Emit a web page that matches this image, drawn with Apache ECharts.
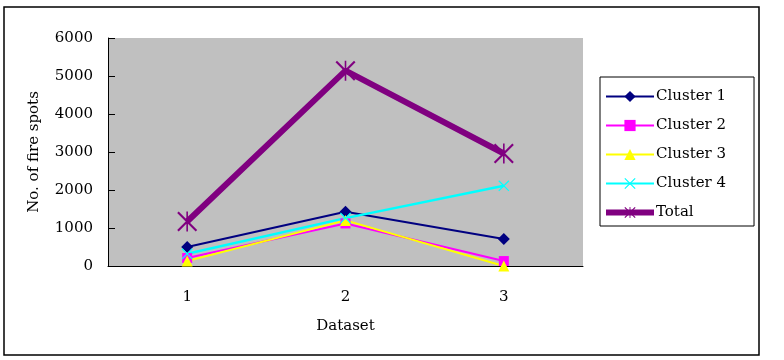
<!DOCTYPE html>
<html>
<head>
<meta charset="utf-8">
<script src="https://cdn.jsdelivr.net/npm/echarts@6/dist/echarts.min.js"></script>
<style>
  html, body { margin: 0; padding: 0; background: #fff; }
  #chart { width: 784px; height: 360px; }
</style>
</head>
<body>
<div id="chart"></div>
<script>
// 数据
const categories = ['1', '2', '3']
const cluster1 = [500, 1430, 710]
const cluster2 = [210, 1120, 130]
const cluster3 = [130, 1200, 0]
const cluster4 = [320, 1260, 2110]
const total = [1170, 5140, 2960]

const FONT = 'DejaVu Serif'

// 自定义标记
const crossPath = 'path://M0,1.5 L1.5,0 L20,18.5 L18.5,20 Z M18.5,0 L20,1.5 L1.5,20 L0,18.5 Z'
const starPath = 'path://M0,1.5 L1.5,0 L20,18.5 L18.5,20 Z M18.5,0 L20,1.5 L1.5,20 L0,18.5 Z M9.2,0 L10.8,0 L10.8,20 L9.2,20 Z'

const chart = echarts.init(document.getElementById('chart'))

const lineSeries = (name, data, color, symbol, size, width) => ({
  name,
  type: 'line',
  data,
  symbol,
  symbolSize: size,
  showAllSymbol: true,
  lineStyle: { color, width },
  itemStyle: { color, borderWidth: 0 },
  emphasis: { disabled: true },
  animation: false
})

const option = {
  backgroundColor: '#fff',
  textStyle: { fontFamily: FONT },
  graphic: [
    {
      type: 'rect',
      shape: { x: 4, y: 7, width: 755, height: 348 },
      style: { fill: 'none', stroke: '#000', lineWidth: 1.5 },
      z: -1
    }
  ],
  grid: {
    left: 108,
    right: 201,
    top: 38,
    bottom: 94,
    show: true,
    backgroundColor: '#c0c0c0',
    borderWidth: 0
  },
  legend: {
    orient: 'vertical',
    left: 600,
    top: 77,
    padding: [12, 28, 6, 3],
    itemWidth: 48,
    itemHeight: 14,
    itemGap: 14,
    itemStyle: { borderWidth: 0 },
    backgroundColor: '#fff',
    borderColor: '#000',
    borderWidth: 1,
    textStyle: { fontFamily: FONT, fontSize: 15, color: '#000', padding: [0, 0, 0, -3] },
    data: [
      'Cluster 1',
      'Cluster 2',
      'Cluster 3',
      'Cluster 4',
      { name: 'Total', lineStyle: { width: 6 } }
    ]
  },
  xAxis: {
    type: 'category',
    data: categories,
    boundaryGap: true,
    name: 'Dataset',
    nameLocation: 'middle',
    nameGap: 53,
    nameTextStyle: { fontFamily: FONT, fontSize: 15, color: '#000' },
    axisLine: { lineStyle: { color: '#000', width: 1 } },
    axisTick: { inside: true, length: 7, lineStyle: { color: '#000' } },
    axisLabel: { margin: 24, fontFamily: FONT, fontSize: 15, color: '#000' },
    splitLine: { show: false }
  },
  yAxis: {
    type: 'value',
    min: 0,
    max: 6000,
    interval: 1000,
    name: 'No. of fire spots',
    nameLocation: 'middle',
    nameGap: 66,
    nameTextStyle: { fontFamily: FONT, fontSize: 15, color: '#000' },
    axisLine: { show: true, lineStyle: { color: '#000', width: 1 } },
    axisTick: { show: true, inside: true, length: 7, lineStyle: { color: '#000' } },
    axisLabel: { margin: 15, fontFamily: FONT, fontSize: 15, color: '#000', formatter: v => String(v) },
    splitLine: { show: false }
  },
  series: [
    lineSeries('Cluster 1', cluster1, '#000080', 'diamond', 12, 2),
    lineSeries('Cluster 2', cluster2, '#ff00ff', 'rect', 10, 2),
    lineSeries('Cluster 3', cluster3, '#ffff00', 'triangle', 11, 2),
    lineSeries('Cluster 4', cluster4, '#00ffff', crossPath, 11, 2.5),
    lineSeries('Total', total, '#800080', starPath, 20, 6)
  ]
}

chart.setOption(option)
</script>
</body>
</html>
